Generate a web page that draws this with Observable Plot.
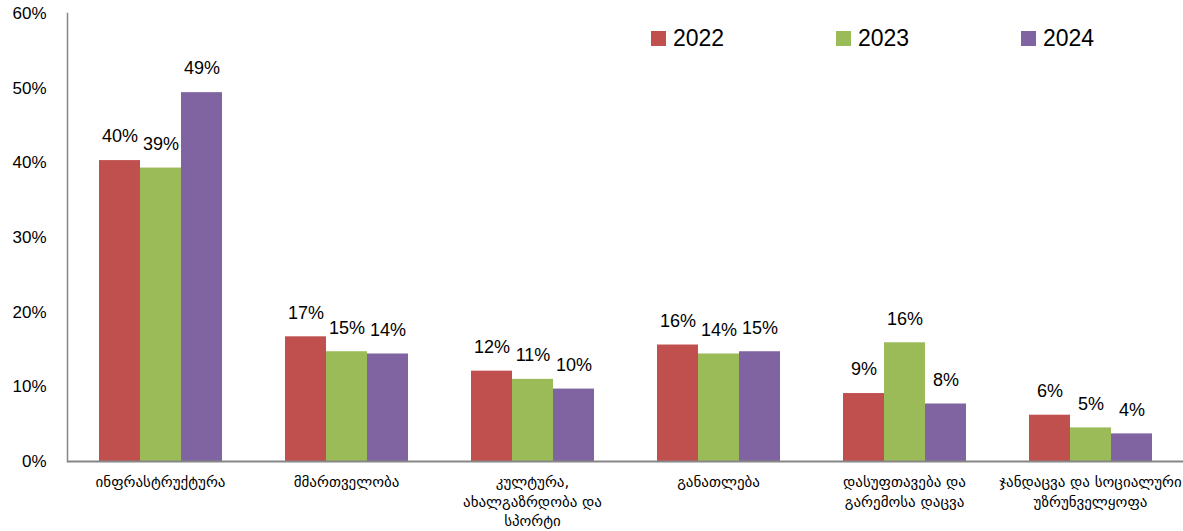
<!DOCTYPE html>
<html>
<head>
<meta charset="utf-8">
<script src="https://cdn.jsdelivr.net/npm/d3@7"></script>
<script src="https://cdn.jsdelivr.net/npm/@observablehq/plot@0.6"></script>
<style>
  html, body { margin: 0; padding: 0; background: #fff; }
  #wrap { position: relative; width: 1183px; height: 531px; }
  #legend { position: absolute; left: 0; top: 0; width: 1183px; height: 60px; pointer-events: none;
            font-family: "Liberation Sans", Arial, sans-serif; font-size: 23px; color: #000; }
  .item { position: absolute; top: 25px; height: 26px; display: flex; align-items: center; }
  .sw { width: 15px; height: 15px; margin-right: 7px; }
</style>
</head>
<body>
<div id="wrap"><div id="chart"></div><div id="legend"></div></div>
<script>
const categories = [
  "ინფრასტრუქტურა",
  "მმართველობა",
  "კულტურა,\nახალგაზრდობა და\nსპორტი",
  "განათლება",
  "დასუფთავება და\nგარემოსა დაცვა",
  "ჯანდაცვა და სოციალური\nუზრუნველყოფა"
];
const years = ["2022", "2023", "2024"];
const v2022 = [40.3, 16.7, 12.1, 15.6, 9.1, 6.2];
const v2023 = [39.3, 14.7, 11.0, 14.4, 15.9, 4.5];
const v2024 = [49.4, 14.4, 9.7, 14.7, 7.7, 3.7];
const colors = ["#C0504D", "#9BBB59", "#8064A2"];
const yTicks = [0, 10, 20, 30, 40, 50, 60];

const series = [v2022, v2023, v2024];
const data = [];
categories.forEach((c, i) => years.forEach((y, j) => data.push({cat: c, year: y, value: series[j][i]})));

const chart = Plot.plot({
  width: 1183,
  height: 531,
  marginLeft: 66,
  marginRight: 0,
  marginTop: 13,
  marginBottom: 70,
  style: {fontFamily: "'Liberation Sans', Arial, sans-serif", fontSize: "17px", color: "#000", background: "#fff"},
  fx: {domain: categories, padding: 0, label: null},
  x: {domain: years, paddingInner: 0, paddingOuter: 0.74, axis: null},
  y: {domain: [0, 60], label: null},
  color: {domain: years, range: colors},
  marks: [
    Plot.barY(data, {fx: "cat", x: "year", y: "value", fill: "year"}),
    Plot.text(data, {fx: "cat", x: "year", y: "value", text: d => Math.round(d.value) + "%", dy: -24, fontSize: 18, fill: "#000"}),
    Plot.axisY({ticks: yTicks, tickSize: 0, tickPadding: 21, tickFormat: d => d + "%", fontSize: 17, label: null}),
    Plot.axisFx({anchor: "bottom", tickSize: 0, tickPadding: 12, fontSize: 15, fontFamily: "'DejaVu Sans', sans-serif", lineHeight: 1.3, label: null}),
    Plot.ruleY([0], {stroke: "#868686", strokeWidth: 2}),
    Plot.frame({anchor: "left", facetAnchor: "left", stroke: "#868686", strokeWidth: 1.5})
  ]
});
document.getElementById("chart").appendChild(chart);

const legend = document.getElementById("legend");
const lx = [651, 836, 1021];
years.forEach((y, i) => {
  const it = document.createElement("div");
  it.className = "item";
  it.style.left = lx[i] + "px";
  it.innerHTML = `<div class="sw" style="background:${colors[i]}"></div><span>${y}</span>`;
  legend.appendChild(it);
});
</script>
</body>
</html>
